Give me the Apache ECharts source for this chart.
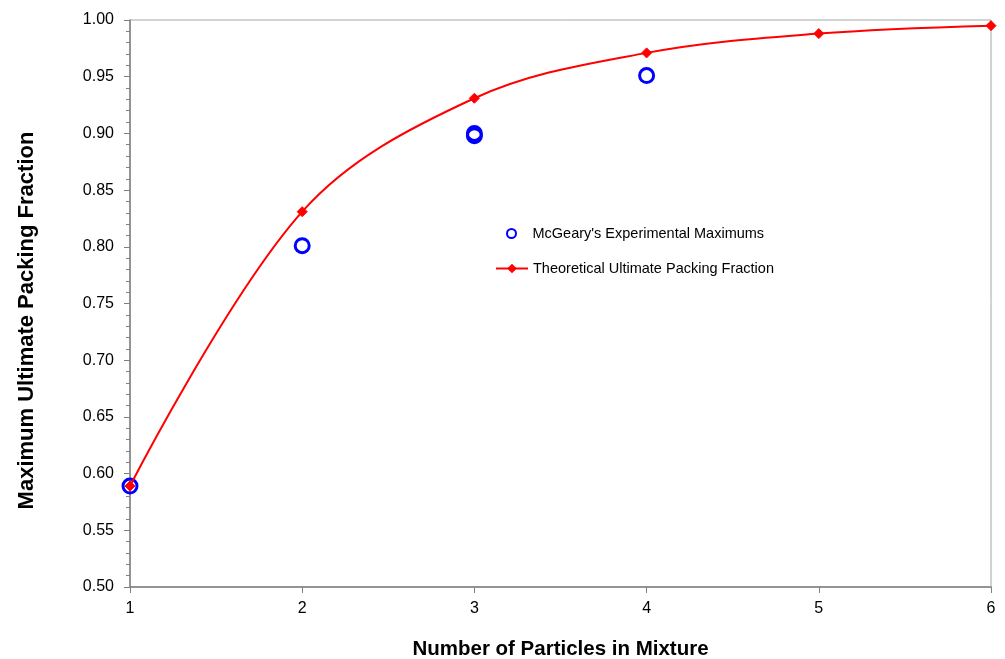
<!DOCTYPE html>
<html>
<head>
<meta charset="utf-8">
<script src="https://cdn.jsdelivr.net/npm/echarts@6/dist/echarts.min.js"></script>
<style>
  html, body { margin: 0; padding: 0; background: #ffffff; }
  #chart { width: 1005px; height: 659px; }
</style>
</head>
<body>
<div id="chart"></div>
<script>
// Number of particle sizes in the mixture
const particleCounts = [1, 2, 3, 4, 5, 6];
// Theoretical ultimate packing fraction for each particle count
const theoreticalFraction = [0.589, 0.831, 0.931, 0.971, 0.988, 0.995];
// McGeary's experimental maximum packing fractions
const experimentalX = [1, 2, 3, 3, 4];
const experimentalY = [0.589, 0.801, 0.900, 0.898, 0.951];

const seriesNames = ["McGeary's Experimental Maximums", 'Theoretical Ultimate Packing Fraction'];
const font = 'Liberation Sans, Arial, Helvetica, sans-serif';
const legendText = { fontFamily: font, fontSize: 14.5, color: '#000000' };

const chart = echarts.init(document.getElementById('chart'), null, { renderer: 'canvas' });

chart.setOption({
  animation: false,
  backgroundColor: '#ffffff',
  grid: {
    left: 130, right: 14, top: 20, bottom: 72,
    outerBoundsMode: 'none',
    containLabel: false,
    show: true, borderColor: '#a6a6a6', borderWidth: 1, backgroundColor: 'transparent'
  },
  legend: [
    {
      // experimental markers: small hollow circle
      left: 501, top: 221,
      itemWidth: 32, itemHeight: 9,
      textStyle: legendText,
      data: [{ name: seriesNames[0] }]
    },
    {
      // theoretical curve: line with diamond
      left: 490, top: 256,
      itemWidth: 32, itemHeight: 12,
      textStyle: legendText,
      data: [{ name: seriesNames[1] }]
    }
  ],
  xAxis: {
    type: 'value',
    min: 1, max: 6, interval: 1,
    name: 'Number of Particles in Mixture',
    nameLocation: 'middle',
    nameGap: 52,
    nameTextStyle: { fontFamily: font, fontSize: 20.5, fontWeight: 'bold', color: '#000000' },
    axisLine: { lineStyle: { color: '#808080', width: 1.5 } },
    axisTick: { show: true, inside: false, length: 6, lineStyle: { color: '#808080' } },
    axisLabel: { fontFamily: font, fontSize: 16, color: '#000000', margin: 14 },
    splitLine: { show: false }
  },
  yAxis: {
    type: 'value',
    min: 0.5, max: 1.0, interval: 0.05,
    name: 'Maximum Ultimate Packing Fraction',
    nameLocation: 'middle',
    nameGap: 92,
    nameTextStyle: { fontFamily: font, fontSize: 22, fontWeight: 'bold', color: '#000000', padding: [0, 34, 0, 0] },
    axisLine: { show: true, lineStyle: { color: '#808080', width: 1.5 } },
    axisTick: { show: true, inside: false, length: 6, lineStyle: { color: '#808080' } },
    minorTick: { show: true, splitNumber: 5, length: 4, lineStyle: { color: '#808080' } },
    axisLabel: { fontFamily: font, fontSize: 16, color: '#000000', margin: 16, formatter: v => v.toFixed(2) },
    splitLine: { show: false }
  },
  series: [
    {
      name: seriesNames[0],
      type: 'scatter',
      symbol: 'circle',
      symbolSize: 14,
      itemStyle: { color: 'rgba(255,255,255,0)', borderColor: '#0000ff', borderWidth: 3, opacity: 1 },
      data: experimentalX.map((x, i) => [x, experimentalY[i]]),
      z: 2
    },
    {
      name: seriesNames[1],
      type: 'line',
      smooth: 0.35,
      symbol: 'diamond',
      symbolSize: 10,
      showAllSymbol: true,
      lineStyle: { color: '#ff0000', width: 2 },
      itemStyle: { color: '#ff0000', borderColor: '#ff0000' },
      data: particleCounts.map((x, i) => [x, theoreticalFraction[i]]),
      z: 3
    }
  ]
});
</script>
</body>
</html>
